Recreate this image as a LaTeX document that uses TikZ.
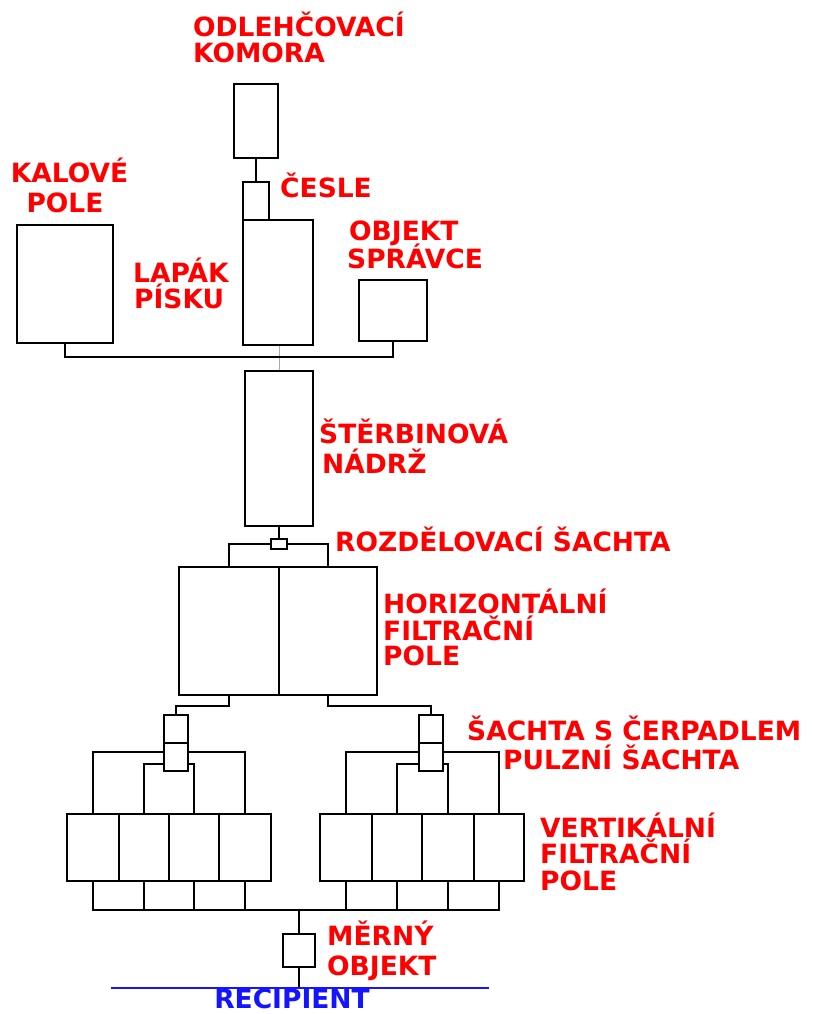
\documentclass[tikz,border=0pt]{standalone}
\usepackage{fontspec}
\newfontfamily\lblfont{DejaVu Sans}
\usetikzlibrary{calc}
\definecolor{lblred}{RGB}{255,0,0}
\definecolor{lblblue}{RGB}{20,20,255}
\definecolor{pipegray}{RGB}{170,170,170}
\begin{document}
\begin{tikzpicture}[x=1pt,y=-1pt,
  blk/.style={draw=black,line width=2pt,inner sep=0pt,anchor=north west,fill=white},
  pipe/.style={draw=black,line width=2pt},
  lbl/.style={text=lblred,inner sep=0pt,font=\lblfont\bfseries\fontsize{26.5}{30}\selectfont},
  rec/.style={text=lblblue,inner sep=0pt,font=\lblfont\bfseries\fontsize{26.5}{30}\selectfont}]
\useasboundingbox (0,0) rectangle (813,1014);
% ---------- boxes ----------
\node[blk,minimum width=44pt,minimum height=74pt] (komora) at (233,83) {};
\node[blk,minimum width=26pt,minimum height=38pt] (cesle) at (242,181) {};
\node[blk,minimum width=70pt,minimum height=125pt] (lapak) at (242,219) {};
\node[blk,minimum width=96pt,minimum height=118pt] (kalove) at (16,224) {};
\node[blk,minimum width=68pt,minimum height=61pt] (spravce) at (358,279) {};
\node[blk,minimum width=68pt,minimum height=155pt] (sterbin) at (244,370) {};
\node[blk,minimum width=16pt,minimum height=10pt] (rozdel) at (270,538) {};
\node[blk,minimum width=100pt,minimum height=128pt] (horizL) at (178,566) {};
\node[blk,minimum width=98pt,minimum height=128pt] (horizR) at (278,566) {};
\node[blk,minimum width=24pt,minimum height=28pt] (cerpL) at (163,714) {};
\node[blk,minimum width=24pt,minimum height=28pt] (pulzL) at (163,742) {};
\node[blk,minimum width=24pt,minimum height=28pt] (cerpR) at (418,714) {};
\node[blk,minimum width=24pt,minimum height=28pt] (pulzR) at (418,742) {};
\node[blk,minimum width=52pt,minimum height=67pt] (vL1) at (66,813) {};
\node[blk,minimum width=50pt,minimum height=67pt] (vL2) at (118,813) {};
\node[blk,minimum width=50pt,minimum height=67pt] (vL3) at (168,813) {};
\node[blk,minimum width=52pt,minimum height=67pt] (vL4) at (218,813) {};
\node[blk,minimum width=52pt,minimum height=67pt] (vR1) at (319,813) {};
\node[blk,minimum width=50pt,minimum height=67pt] (vR2) at (371,813) {};
\node[blk,minimum width=52pt,minimum height=67pt] (vR3) at (421,813) {};
\node[blk,minimum width=50pt,minimum height=67pt] (vR4) at (473,813) {};
\node[blk,minimum width=32pt,minimum height=33pt] (merny) at (282,933) {};
% ---------- connectors ----------
\coordinate (bus1) at (0,357);
\coordinate (split) at (0,706);
\coordinate (busB) at (0,910);
\coordinate (recL) at (111,988);
\coordinate (recR) at (489,988);
\draw[pipe] (komora.south) -- (cesle.north);
\draw[pipegray,line width=1pt] (sterbin.north |- lapak.south) -- (sterbin.north);
\draw[pipe] (kalove.south) |- (bus1 -| spravce.south) -- (spravce.south);
\draw[pipe] (sterbin.south) -- (rozdel.north);
\draw[pipe] (horizL.north) |- (rozdel.west);
\draw[pipe] (horizR.north) |- (rozdel.east);
\draw[pipe] (horizL.south) -- (split -| horizL.south) -| (cerpL.north);
\draw[pipe] (horizR.south) -- (split -| horizR.south) -| (cerpR.north);
% left vertical field feed
\draw[pipe] (vL1.north) |- ($(pulzL.west)+(0,-5)$);
\draw[pipe] (vL4.north) |- ($(pulzL.east)+(0,-5)$);
\draw[pipe] (vL2.north) |- ($(pulzL.west)+(0,7)$);
\draw[pipe] (vL3.north) |- ($(pulzL.east)+(0,7)$);
% right vertical field feed
\draw[pipe] (vR1.north) |- ($(pulzR.west)+(0,-5)$);
\draw[pipe] (vR4.north) |- ($(pulzR.east)+(0,-5)$);
\draw[pipe] (vR2.north) |- ($(pulzR.west)+(0,7)$);
\draw[pipe] (vR3.north) |- ($(pulzR.east)+(0,7)$);
% collector
\draw[pipe] (vL1.south) |- (busB -| vR4.south) -- (vR4.south);
\foreach \n in {vL2,vL3,vL4,vR1,vR2,vR3}{\draw[pipe] (\n.south) -- (busB -| \n.south);}
\draw[pipe] (busB -| merny.north) -- (merny.north);
\draw[pipe] (merny.south) -- (recL -| merny.south);
\draw[draw=lblblue,line width=2pt] (recL) -- (recR);
% ---------- labels ----------
\node[lbl,anchor=base west] (tKom1) at (193,37) {ODLEHČOVACÍ};
\node[lbl,anchor=base west] (tKom2) at (193,63) {KOMORA};
\node[lbl,anchor=base] (tKal1) at (69.5,182) {KALOVÉ};
\node[lbl,anchor=base] (tKal2) at (65,212) {POLE};
\node[lbl,anchor=base west] (tCes) at (280,197) {ČESLE};
\node[lbl,anchor=base west] (tSpr1) at (349,240) {OBJEKT};
\node[lbl,anchor=base west] (tSpr2) at (347,268) {SPRÁVCE};
\node[lbl,anchor=base west] (tLap1) at (133,282) {LAPÁK};
\node[lbl,anchor=base west] (tLap2) at (134,308) {PÍSKU};
\node[lbl,anchor=base west] (tSte1) at (319,443) {ŠTĚRBINOVÁ};
\node[lbl,anchor=base west] (tSte2) at (322,473) {NÁDRŽ};
\node[lbl,anchor=base west] (tRoz) at (335,551) {ROZDĚLOVACÍ ŠACHTA};
\node[lbl,anchor=base west] (tHor1) at (383,613) {HORIZONTÁLNÍ};
\node[lbl,anchor=base west] (tHor2) at (383,640) {FILTRAČNÍ};
\node[lbl,anchor=base west] (tHor3) at (383,665) {POLE};
\node[lbl,anchor=base west] (tCer) at (467,740) {ŠACHTA S ČERPADLEM};
\node[lbl,anchor=base west] (tPul) at (503,769) {PULZNÍ ŠACHTA};
\node[lbl,anchor=base west] (tVer1) at (540,837) {VERTIKÁLNÍ};
\node[lbl,anchor=base west] (tVer2) at (540,863) {FILTRAČNÍ};
\node[lbl,anchor=base west] (tVer3) at (540,890) {POLE};
\node[lbl,anchor=base west] (tMer1) at (327,945) {MĚRNÝ};
\node[lbl,anchor=base west] (tMer2) at (327,975) {OBJEKT};
\node[rec,anchor=base] (tRec) at (292,1008) {RECIPIENT};
\end{tikzpicture}
\end{document}
